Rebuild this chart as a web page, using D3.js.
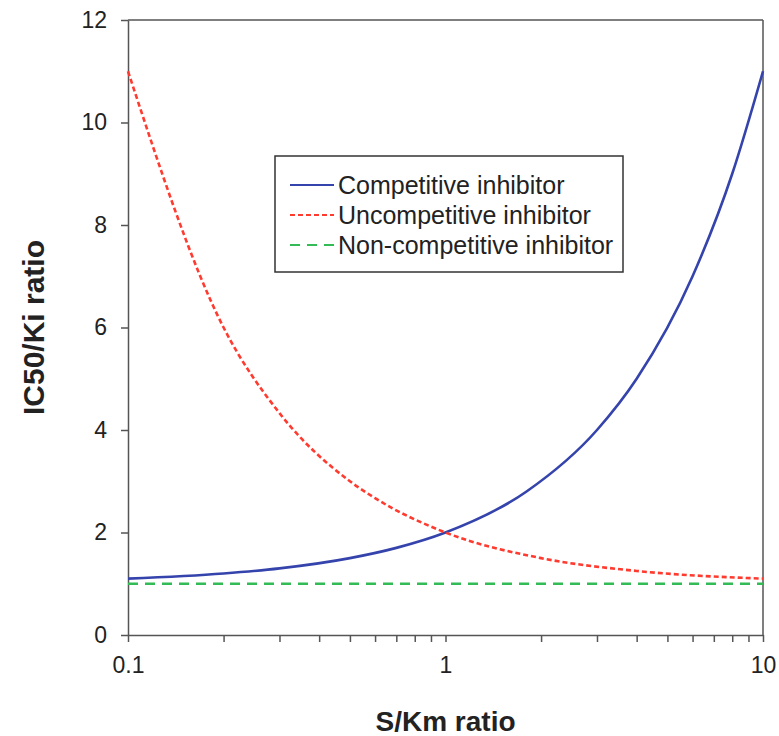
<!DOCTYPE html>
<html>
<head>
<meta charset="utf-8">
<script src="https://cdn.jsdelivr.net/npm/d3@7"></script>
<style>
  html, body { margin: 0; padding: 0; background: #fff; }
  svg { display: block; font-family: "Liberation Sans", Arial, sans-serif; }
</style>
</head>
<body>
<svg id="chart" width="779" height="736"></svg>
<script>
// Substrate concentration relative to Km
const ratioS = [0.1, 0.2, 0.3, 0.5, 0.7, 1, 1.8, 3, 4, 6, 8, 10];
// IC50/Ki for each inhibition mode
const competitive = [1.1, 1.2, 1.3, 1.5, 1.7, 2, 2.8, 4, 5, 7, 9, 11];
const ratioU = [0.1, 0.2, 0.3, 0.5, 0.6, 1, 2, 4, 10];
const uncompetitive = [11, 6, 4.33, 3, 2.67, 2, 1.5, 1.25, 1.1];
const ratioN = [0.1, 10];
const noncompetitive = [1, 1];

const xTicks = [0.1, 1, 10];
const yTicks = [0, 2, 4, 6, 8, 10, 12];
const seriesNames = ["Competitive inhibitor", "Uncompetitive inhibitor", "Non-competitive inhibitor"];

const svg = d3.select("#chart");
const L = 128, R = 763, T = 20, B = 635;

const x = d3.scaleLog().domain([0.1, 10]).range([L, R]);
const y = d3.scaleLinear().domain([0, 12]).range([B, T]);

const axisColor = "#555";
const textColor = "#222";

// frame top and right
svg.append("line").attr("x1", L).attr("x2", R).attr("y1", T).attr("y2", T)
  .attr("stroke", axisColor).attr("stroke-width", 1.5);
svg.append("line").attr("x1", R).attr("x2", R).attr("y1", T).attr("y2", B)
  .attr("stroke", axisColor).attr("stroke-width", 1.5);

// x axis with minor ticks
const minor = [];
for (let d = 0.1; d < 10; d *= 10) for (let k = 1; k <= 10; k++) minor.push(+(d * k).toPrecision(3));
const xAxis = d3.axisBottom(x).tickValues([...new Set(minor)]).tickSize(7).tickSizeOuter(0)
  .tickFormat(d => xTicks.includes(d) ? String(d) : "");
const gx = svg.append("g").attr("transform", `translate(0,${B})`).call(xAxis);
gx.select(".domain").attr("stroke", axisColor).attr("stroke-width", 1.5);
gx.selectAll(".tick line").attr("stroke", axisColor).attr("stroke-width", 1.5);
gx.selectAll(".tick text").attr("font-size", 23).attr("fill", textColor)
  .attr("font-family", "Liberation Sans, Arial, sans-serif").attr("dy", "1.2em");

// y axis
const yAxis = d3.axisLeft(y).tickValues(yTicks).tickSize(7).tickSizeOuter(0).tickPadding(14);
const gy = svg.append("g").attr("transform", `translate(${L},0)`).call(yAxis);
gy.select(".domain").attr("stroke", axisColor).attr("stroke-width", 1.5);
gy.selectAll(".tick line").attr("stroke", axisColor).attr("stroke-width", 1.5);
gy.selectAll(".tick text").attr("font-size", 23).attr("fill", textColor)
  .attr("font-family", "Liberation Sans, Arial, sans-serif");

// series
const styles = [
  { color: "#3544AC", dash: null },
  { color: "#FF3B30", dash: "5,3" },
  { color: "#33BB55", dash: "10,7" }
];
const seriesData = [
  ratioS.map((s, i) => [s, competitive[i]]),
  ratioU.map((s, i) => [s, uncompetitive[i]]),
  ratioN.map((s, i) => [s, noncompetitive[i]])
];
const line = d3.line().x(d => x(d[0])).y(d => y(d[1])).curve(d3.curveMonotoneX);
seriesData.forEach((data, i) => {
  svg.append("path").datum(data).attr("d", line)
    .attr("fill", "none").attr("stroke", styles[i].color).attr("stroke-width", 2.6)
    .attr("stroke-dasharray", styles[i].dash);
});

// axis titles
svg.append("text").attr("x", (L + R) / 2).attr("y", 731).attr("text-anchor", "middle")
  .attr("font-size", 28).attr("font-weight", "bold").attr("fill", textColor).text("S/Km ratio");
svg.append("text").attr("transform", `translate(44,${(T + B) / 2}) rotate(-90)`)
  .attr("text-anchor", "middle").attr("font-size", 30).attr("font-weight", "bold")
  .attr("fill", textColor).text("IC50/Ki ratio");

// legend
const lg = svg.append("g");
lg.append("rect").attr("x", 275).attr("y", 156).attr("width", 348).attr("height", 116)
  .attr("fill", "#fff").attr("stroke", "#333").attr("stroke-width", 1.5);
seriesNames.forEach((name, i) => {
  const ry = 185 + i * 30;
  lg.append("line").attr("x1", 290).attr("x2", 334).attr("y1", ry).attr("y2", ry)
    .attr("stroke", styles[i].color).attr("stroke-width", 2.2).attr("stroke-dasharray", styles[i].dash);
  lg.append("text").attr("x", 338).attr("y", ry).attr("dy", "0.35em")
    .attr("font-size", 25).attr("fill", textColor).text(name);
});
</script>
</body>
</html>
